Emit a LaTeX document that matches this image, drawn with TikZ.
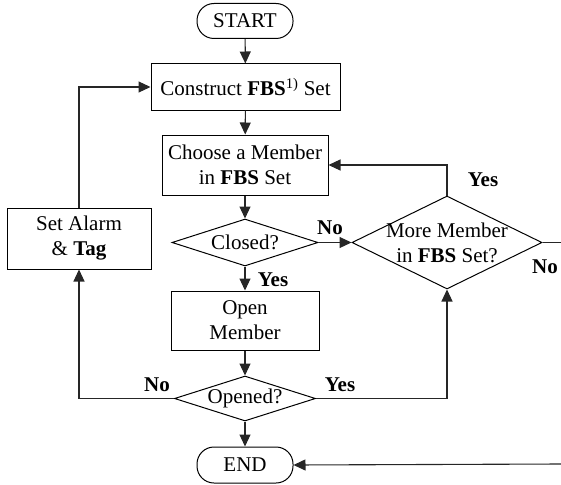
\documentclass[tikz,border=0pt]{standalone}
\usepackage{fontspec}
\setmainfont{Liberation Serif}
\usetikzlibrary{shapes.geometric,arrows.meta}
\begin{document}
\begin{tikzpicture}[x=1pt,y=-1pt,
  every node/.style={font=\fontsize{21}{25}\selectfont},
  box/.style={draw, line width=1pt, align=center, inner sep=0pt},
  term/.style={draw, line width=1pt, rounded corners=17pt, inner sep=0pt},
  dec/.style={draw, diamond, line width=1pt, inner sep=0pt},
  dtext/.style={align=center, inner sep=0pt},
  conn/.style={draw=black!85, line width=1.1pt, -{Triangle[length=12pt,width=11pt]}},
  plain/.style={draw=black!85, line width=1.1pt},
  lbl/.style={font=\fontsize{21}{25}\selectfont\bfseries, inner sep=0pt}]
\useasboundingbox (0,0) rectangle (561,484);
% nodes
\node[term, minimum width=96pt, minimum height=35pt] (start) at (245,21) {START};
\node[box, minimum width=189pt, minimum height=46pt] (construct) at (245.5,87) {Construct \textbf{FBS}\textsuperscript{1)} Set};
\node[box, minimum width=166pt, minimum height=60pt] (choose) at (245,165) {Choose a Member\\in \textbf{FBS} Set};
\node[dec, minimum width=146pt, minimum height=47pt] (closed) at (245,242.5) {};
\node[dtext] (closedt) at (245,242.5) {Closed?};
\node[box, minimum width=148pt, minimum height=59pt] (open) at (245,320.5) {Open\\Member};
\node[dec, minimum width=141pt, minimum height=45pt] (opened) at (245,398.5) {};
\node[dtext] (openedt) at (245,398.5) {Opened?};
\node[term, minimum width=96pt, minimum height=36pt] (end) at (245,465) {END};
\node[box, minimum width=144pt, minimum height=61pt] (alarm) at (79,238.5) {Set Alarm\\\& \textbf{Tag}};
\node[dec, minimum width=190pt, minimum height=93pt] (more) at (447,242.5) {};
\node[dtext] (moret) at (447,242.5) {More Member\\in \textbf{FBS} Set?};
\coordinate (outr) at (561,242.5);
\coordinate (inr) at (561,464);
% connectors
\draw[conn] (start) -- (construct);
\draw[conn] (construct) -- (choose);
\draw[conn] (choose) -- (closed);
\draw[conn] (closed) -- (open);
\draw[conn] (open) -- (opened);
\draw[conn] (opened) -- (end);
\draw[conn] (closed.east) -- (more.west);
\draw[conn] (more.north) |- (choose.east);
\draw[conn] (opened.east) -| (more.south);
\draw[conn] (opened.west) -| (alarm.south);
\draw[conn] (alarm.north) |- (construct.west);
\draw[plain] (more.east) -- (outr);
\draw[conn] (inr) -- (end.east);
% labels
\node[lbl] (l1) at (483,180) {Yes};
\node[lbl] (l2) at (330,228) {No};
\node[lbl] (l3) at (273,280) {Yes};
\node[lbl] (l4) at (545,267) {No};
\node[lbl] (l5) at (157,385) {No};
\node[lbl] (l6) at (340,385) {Yes};
\end{tikzpicture}
\end{document}
